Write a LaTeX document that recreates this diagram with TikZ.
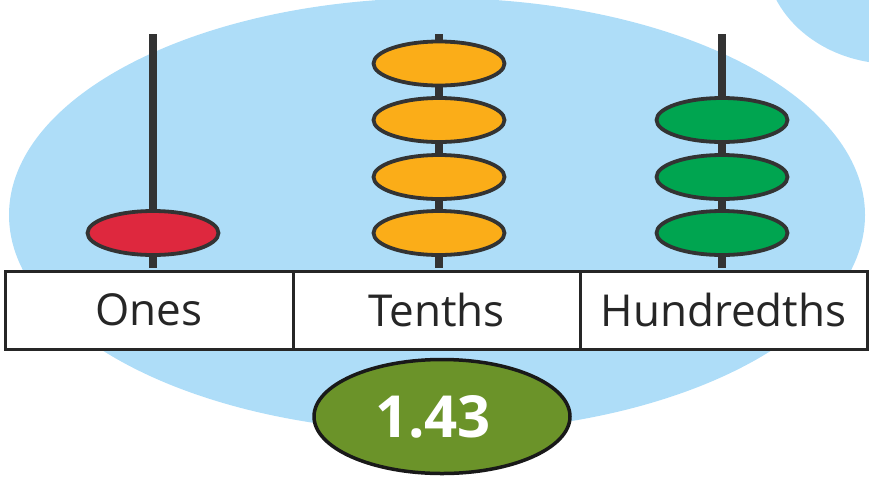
\documentclass[tikz,border=0pt]{standalone}
\usepackage{fontspec}
\setmainfont{Open Sans}
\usetikzlibrary{shapes.geometric}
\definecolor{skyblue}{HTML}{AEDDF8}
\definecolor{rodgray}{HTML}{333333}
\definecolor{edgegray}{HTML}{262626}
\definecolor{beadred}{HTML}{DE283E}
\definecolor{beadorange}{HTML}{FBAD18}
\definecolor{beadgreen}{HTML}{00A550}
\definecolor{olive}{HTML}{6B9329}
\tikzset{
  rod/.style={draw=rodgray, line width=8pt, shorten >=1.5pt},
  bead/.style={ellipse, draw=rodgray, line width=3.8pt, minimum width=131pt, minimum height=44pt, inner sep=0pt},
  cell/.style={draw=edgegray, line width=3pt, fill=white, minimum height=78pt, inner sep=0pt,
    font=\fontsize{44}{50}\selectfont, text=edgegray},
  answer/.style={ellipse, draw=black!90, line width=3.5pt, fill=olive, minimum width=256pt, minimum height=114pt,
    inner sep=0pt, text=white, font=\fontsize{58}{64}\selectfont\bfseries}
}
\begin{document}
\begin{tikzpicture}[x=1pt,y=-1pt]
\useasboundingbox (0,0) rectangle (869,477);
\begin{scope}
  \clip (0,0) rectangle (869,477);
  \fill[skyblue] (437,215) ellipse [x radius=428, y radius=217];
  \fill[skyblue] (893,-45) ellipse [x radius=128, y radius=109];
\end{scope}
% table
\node[cell, minimum width=288pt] (ones) at (149,310) {Ones};
\node[cell, minimum width=287pt] (tenths) at (436.5,310) {Tenths};
\node[cell, minimum width=287pt] (hundredths) at (723.5,310) {Hundredths};
% rods
\coordinate (onestop) at (153,34);
\coordinate (tenthstop) at (439,34);
\coordinate (hundredthstop) at (722,34);
\draw[rod] (onestop) -- (onestop |- ones.north);
\draw[rod] (tenthstop) -- (tenthstop |- tenths.north);
\draw[rod] (hundredthstop) -- (hundredthstop |- hundredths.north);
% beads
\node[bead, fill=beadred] (o1) at (153,233) {};
\node[bead, fill=beadorange] (t1) at (439,63.5) {};
\node[bead, fill=beadorange] (t2) at (439,120) {};
\node[bead, fill=beadorange] (t3) at (439,177) {};
\node[bead, fill=beadorange] (t4) at (439,233) {};
\node[bead, fill=beadgreen] (h1) at (722,120) {};
\node[bead, fill=beadgreen] (h2) at (722,177) {};
\node[bead, fill=beadgreen] (h3) at (722,233) {};
% answer
\node[answer] (value) at (442,416.5) {1.43\kern18pt};
\end{tikzpicture}
\end{document}
